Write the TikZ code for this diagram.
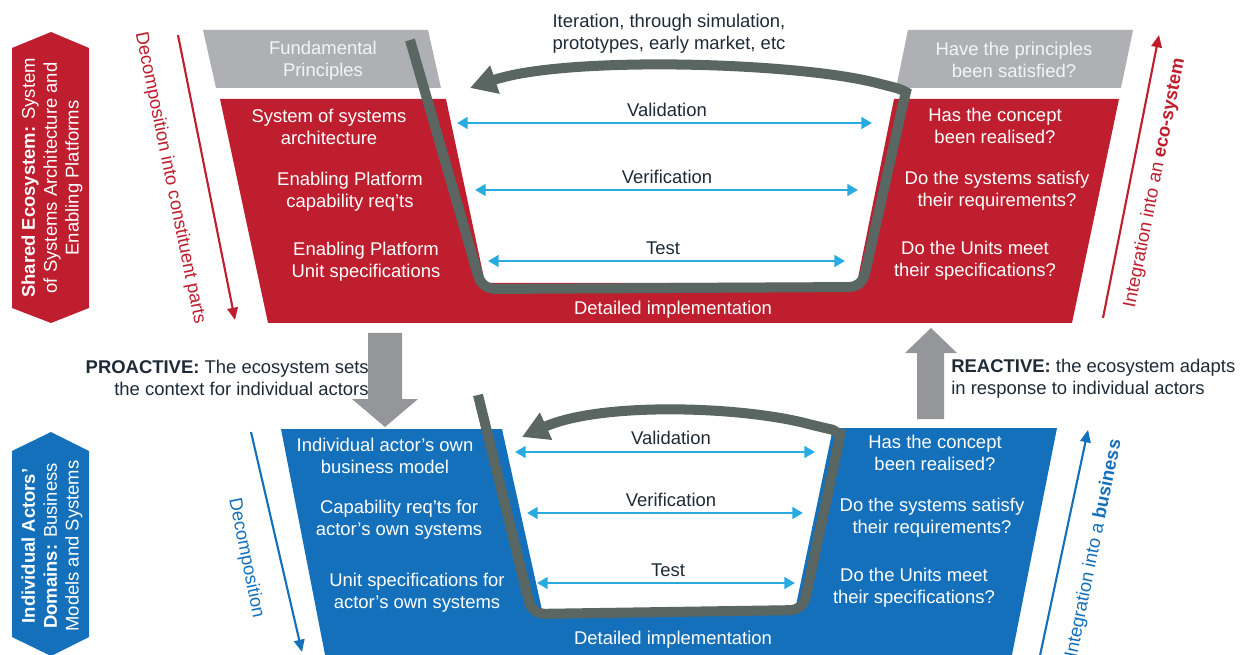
\documentclass[tikz,border=0pt]{standalone}
\usepackage{fontspec}
\setmainfont{Liberation Sans}
\usetikzlibrary{arrows.meta}
\definecolor{vred}{RGB}{190,30,45}
\definecolor{vblue}{RGB}{20,112,186}
\definecolor{pgray}{RGB}{175,176,179}
\definecolor{loopgray}{RGB}{90,102,97}
\definecolor{lblue}{RGB}{41,171,226}
\definecolor{agray}{RGB}{148,150,153}
\definecolor{dtext}{RGB}{30,42,54}
\definecolor{ltext}{RGB}{244,244,244}
\begin{document}
\begin{tikzpicture}[x=0.02cm,y=-0.02cm,
  txt/.style={font=\fontsize{10.5}{12.5}\selectfont,align=center,inner sep=0pt},
  wtxt/.style={txt,text=white},
  gtxt/.style={txt,text=ltext},
  dtxt/.style={txt,text=dtext},
  vvarrow/.style={lblue,line width=1.6pt,{Triangle[length=6pt,width=6.5pt]}-{Triangle[length=6pt,width=6.5pt]}},
  loopline/.style={loopgray,line width=5.7pt,rounded corners=7pt,-{Triangle[length=15pt,width=16pt]}},
  sidearrow/.style={line width=1.2pt,-{Triangle[length=7pt,width=6pt]}},
  blockarrow/.style={fill=agray,draw=none},
]
\useasboundingbox (0,0) rectangle (1248,655);
\clip (0,0) rectangle (1248,655);

% ---------------- upper (red) V ----------------
\fill[pgray] (203,30) -- (428,30) -- (441,88) -- (216,88) -- cycle;
\fill[pgray] (908,30) -- (1133,30) -- (1121,88) -- (896,88) -- cycle;
\fill[vred] (220,99) -- (446,99) -- (485,283) -- (857,283) -- (894,99) -- (1119,99) -- (1072,323) -- (268,323) -- cycle;

% hexagon label (red)
\fill[vred] (12,48) -- (51,32) -- (89,48) -- (89,308) -- (51,323) -- (12,308) -- cycle;
\node[wtxt,rotate=90] (shared) at (52,178) {\textbf{Shared Ecosystem:} System\\of Systems Architecture and\\Enabling Platforms};

% side arrows (red)
\coordinate (decA) at (178,35);
\coordinate (decB) at (235,320);
\draw[sidearrow,vred] (decA) -- (decB);
\node[txt,text=vred,rotate=-78.5] (decomp) at (170,178) {Decomposition into constituent parts};
\coordinate (intA) at (1103,318);
\coordinate (intB) at (1159,35);
\draw[sidearrow,vred] (intA) -- (intB);
\node[txt,text=vred,rotate=78.8] (integ) at (1155,183) {Integration into an \textbf{eco-system}};

% texts upper
\node[gtxt] (fund) at (323,61) {Fundamental\\Principles};
\node[gtxt] (princ) at (1014,60) {Have the principles\\been satisfied?};
\node[wtxt] (sos) at (329,127) {System of systems\\architecture};
\node[wtxt] (epcap) at (350,192) {Enabling Platform\\capability req’ts};
\node[wtxt] (epunit) at (366,262) {Enabling Platform\\Unit specifications};
\node[wtxt] (concept) at (995,126) {Has the concept\\been realised?};
\node[wtxt] (sysreq) at (997,191) {Do the systems satisfy\\their requirements?};
\node[wtxt] (unitspec) at (975,261) {Do the Units meet\\their specifications?};
\node[wtxt] (detail) at (673,310) {Detailed implementation};
\node[dtxt] (iter) at (669,34) {Iteration, through simulation,\\prototypes, early market, etc};

% V&V arrows upper
\coordinate (va1) at (457,123); \coordinate (va2) at (872,123);
\coordinate (ve1) at (475,190); \coordinate (ve2) at (858,190);
\coordinate (te1) at (488,261); \coordinate (te2) at (845,261);
\draw[vvarrow] (va1) -- (va2);
\draw[vvarrow] (ve1) -- (ve2);
\draw[vvarrow] (te1) -- (te2);
\node[dtxt] (valid) at (667,110) {Validation};
\node[dtxt] (verif) at (667,177) {Verification};
\node[dtxt] (test) at (663,248) {Test};

% loop upper
\coordinate (ltop) at (410,40);
\coordinate (ltip) at (470,88);
\draw[loopline] (ltop) -- (482,289) -- (862,287) -- (903,104) .. controls (906,92) and (900,89) .. (885,85) .. controls (790,62) and (565,56) .. (ltip);

% ---------------- middle ----------------
\fill[blockarrow] (368,333) -- (402,333) -- (402,399) -- (418,399) -- (385,427) -- (352,399) -- (368,399) -- cycle;
\fill[blockarrow] (917,419) -- (944,419) -- (944,353) -- (957,353) -- (931,328) -- (905,353) -- (917,353) -- cycle;
\node[dtxt,anchor=east,align=right] (proactive) at (369,378) {\textbf{PROACTIVE:} The ecosystem sets\\the context for individual actors};
\node[dtxt,anchor=west,align=left] (reactive) at (951,379) {\textbf{REACTIVE:} the ecosystem adapts\\in response to individual actors};

% ---------------- lower (blue) V ----------------
\fill[vblue] (281,429) -- (502,429) -- (542,610) -- (795,610) -- (833,428) -- (1057,428) -- (1010,665) -- (327,665) -- cycle;

\fill[vblue] (12,451) -- (51,432) -- (89,451) -- (89,637) -- (51,656) -- (12,637) -- cycle;
\node[wtxt,rotate=90] (actors) at (52,546) {\textbf{Individual Actors’}\\\textbf{Domains:} Business\\Models and Systems};

\coordinate (bdecA) at (251,432);
\coordinate (bdecB) at (302,652);
\draw[sidearrow,vblue] (bdecA) -- (bdecB);
\node[txt,text=vblue,rotate=-78.5] (bdecomp) at (246,558) {Decomposition};
\coordinate (bintA) at (1038,665);
\coordinate (bintB) at (1088,430);
\draw[sidearrow,vblue] (bintA) -- (bintB);
\node[txt,text=vblue,rotate=78.5] (binteg) at (1094,549) {Integration into a \textbf{business}};

\node[wtxt] (bmodel) at (385,456) {Individual actor’s own\\business model};
\node[wtxt] (bcap) at (399,520) {Capability req’ts for\\actor’s own systems};
\node[wtxt] (bunit) at (417,593) {Unit specifications for\\actor’s own systems};
\node[wtxt] (bconcept) at (935,453) {Has the concept\\been realised?};
\node[wtxt] (bsysreq) at (932,518) {Do the systems satisfy\\their requirements?};
\node[wtxt] (bunitspec) at (914,588) {Do the Units meet\\their specifications?};
\node[wtxt] (bdetail) at (673,640) {Detailed implementation};

\coordinate (bva1) at (515,452); \coordinate (bva2) at (815,452);
\coordinate (bve1) at (527,513); \coordinate (bve2) at (803,513);
\coordinate (bte1) at (537,583); \coordinate (bte2) at (795,583);
\draw[vvarrow] (bva1) -- (bva2);
\draw[vvarrow] (bve1) -- (bve2);
\draw[vvarrow] (bte1) -- (bte2);
\node[dtxt] (bvalid) at (671,438) {Validation};
\node[dtxt] (bverif) at (671,500) {Verification};
\node[dtxt] (btest) at (668,570) {Test};

\coordinate (lbtop) at (478,395);
\coordinate (lbtip) at (522,437);
\draw[loopline] (lbtop) -- (532,614) -- (803,610) -- (838,446) .. controls (840,435) and (834,430) .. (820,427) .. controls (740,406) and (600,402) .. (lbtip);
\end{tikzpicture}
\end{document}
